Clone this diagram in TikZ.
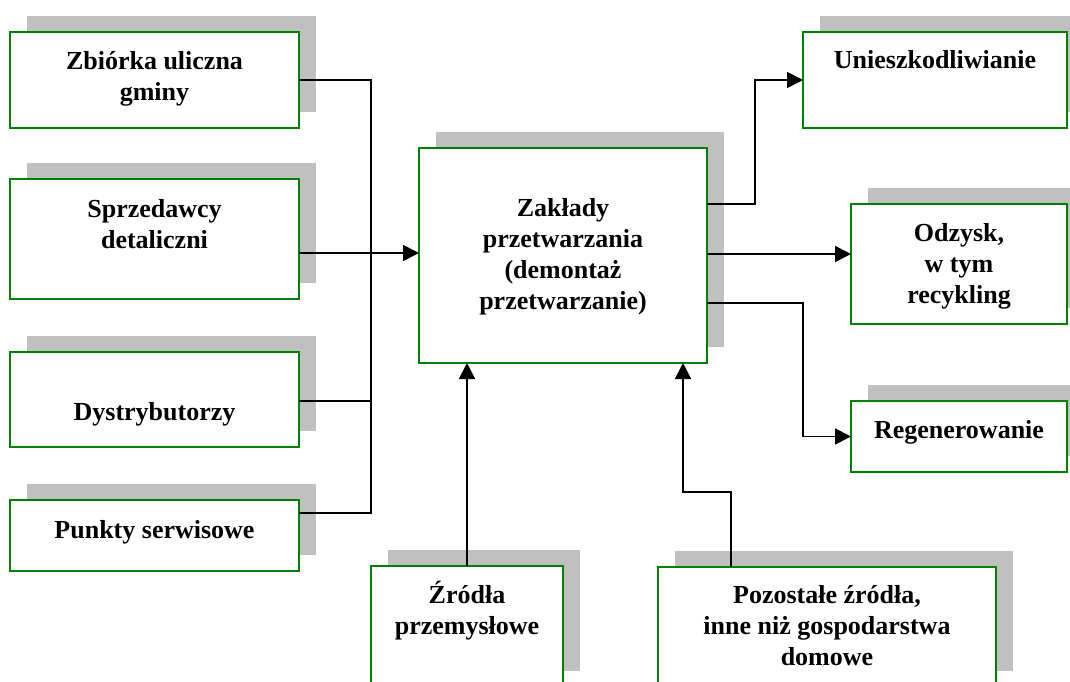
\documentclass[tikz,border=0pt]{standalone}
\usepackage{fontspec}
\setmainfont{Liberation Serif}
\usetikzlibrary{positioning, calc, arrows.meta, shadows}
\definecolor{BoxGreen}{HTML}{008000}
\definecolor{ShadowGray}{HTML}{C0C0C0}

\begin{document}
\begin{tikzpicture}[x=1pt, y=-1pt,
  box/.style={draw=BoxGreen, line width=1.6pt, fill=white, inner sep=0pt,
    outer sep=0pt, anchor=north west,
    general shadow={fill=ShadowGray, shadow xshift=17pt, shadow yshift=16pt}},
  lbl/.style={anchor=base, align=center, inner sep=0pt,
    font=\fontsize{26}{31}\selectfont\bfseries},
  wire/.style={line width=1.6pt},
  arrow/.style={line width=1.8pt, -{Triangle[length=16pt, width=16pt]}}]
\useasboundingbox (0,0) rectangle (1070,682);
\clip (0,0) rectangle (1070,682);

% sources on the left (label shift = baseline of the last line)
\node[box, minimum width=289pt, minimum height=96pt] (zbiorka) at (10,32) {};
\node[lbl] (zbiorkatxt) at ([yshift=-69pt]zbiorka.north) {Zbiórka uliczna\\gminy};
\node[box, minimum width=289pt, minimum height=120pt] (sprz) at (10,179) {};
\node[lbl] (sprztxt) at ([yshift=-69pt]sprz.north) {Sprzedawcy\\detaliczni};
\node[box, minimum width=289pt, minimum height=95pt] (dystr) at (10,352) {};
\node[lbl] (dystrtxt) at ([yshift=-68pt]dystr.north) {Dystrybutorzy};
\node[box, minimum width=289pt, minimum height=71pt] (punkty) at (10,500) {};
\node[lbl] (punktytxt) at ([yshift=-38pt]punkty.north) {Punkty serwisowe};

% treatment plant
\node[box, minimum width=288pt, minimum height=215pt] (zaklady) at (419,148) {};
\node[lbl] (zakladytxt) at ([yshift=-161pt]zaklady.north)
  {Zakłady\\przetwarzania\\(demontaż\\przetwarzanie)};

% outputs on the right
\node[box, minimum width=264pt, minimum height=96pt] (unieszk) at (803,32) {};
\node[lbl] (unieszktxt) at ([yshift=-37pt]unieszk.north) {Unieszkodliwianie};
\node[box, minimum width=216pt, minimum height=120pt] (odzysk) at (851,204) {};
\node[lbl] (odzysktxt) at ([yshift=-99pt]odzysk.north) {Odzysk,\\w tym\\recykling};
\node[box, minimum width=216pt, minimum height=71pt] (regen) at (851,401) {};
\node[lbl] (regentxt) at ([yshift=-37pt]regen.north) {Regenerowanie};

% sources at the bottom
\node[box, minimum width=192pt, minimum height=121pt] (zrodla) at (371,566) {};
\node[lbl] (zrodlatxt) at ([yshift=-68pt]zrodla.north) {Źródła\\przemysłowe};
\node[box, minimum width=338pt, minimum height=120pt] (pozost) at (658,567) {};
\node[lbl] (pozosttxt) at ([yshift=-98pt]pozost.north)
  {Pozostałe źródła,\\inne niż gospodarstwa\\domowe};

% collecting line
\coordinate (busend) at (371,513);
\draw[wire] (zbiorka.east) -| (busend) -- (busend -| punkty.east);
\coordinate (dystrout) at ($(dystr.north east)+(0,49)$);
\draw[wire] (dystrout) -- (dystrout -| busend);
\coordinate (sprzout) at ($(sprz.north east)+(0,74)$);
\coordinate (inbus) at ($(sprzout)+(47,0)$);
\draw[wire] (sprzout) -- (inbus);
\draw[arrow] (inbus) -- (inbus -| zaklady.west);

% outputs
\coordinate (out1) at ($(zaklady.north east)+(0,56)$);
\draw[arrow] (out1) -- ++(48,0) |- (unieszk.west);
\coordinate (out2) at ($(zaklady.north east)+(0,106)$);
\draw[arrow] (out2) -- (out2 -| odzysk.west);
\coordinate (out3) at ($(zaklady.north east)+(0,155)$);
\draw[arrow] (out3) -- ++(96,0) |- (regen.west);

% bottom inputs
\draw[arrow] (zrodla.north) -- (zrodla.north |- zaklady.south);
\coordinate (pozin) at ($(pozost.north west)+(73,0)$);
\coordinate (pozbend) at ($(pozin)+(-48,-75)$);
\draw[arrow] (pozin) |- (pozbend) -- (pozbend |- zaklady.south);
\end{tikzpicture}
\end{document}
